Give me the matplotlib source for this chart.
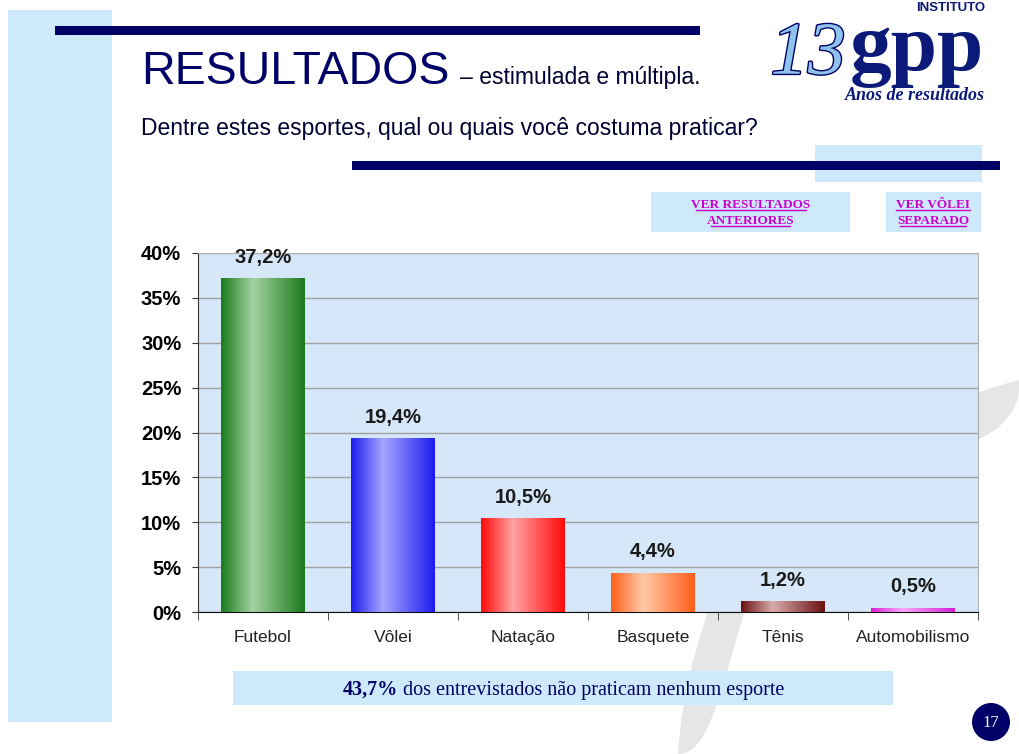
import numpy as np
import matplotlib
matplotlib.use('Agg')
import matplotlib.pyplot as plt
import matplotlib.patches as mpatches
from matplotlib.path import Path
from matplotlib.colors import LinearSegmentedColormap
import matplotlib.patheffects as pe

# data
sports = ['Futebol', 'Vôlei', 'Natação', 'Basquete', 'Tênis', 'Automobilismo']
pct = [37.2, 19.4, 10.5, 4.4, 1.2, 0.5]
yticks = [0, 5, 10, 15, 20, 25, 30, 35, 40]

# (edge colour, highlight colour) for the cylinder-like gradient
bar_cols = [('#1b7a1b', '#a3d3a3'),
            ('#1c1cf0', '#a6a6ff'),
            ('#ff0a0a', '#ffa3a3'),
            ('#ff5e1a', '#ffcaa8'),
            ('#6a1010', '#d9abab'),
            ('#d81ed8', '#f4a8f4')]

navy = '#000066'
pale = '#cde9fb'
sans = 'Liberation Sans'
serif = 'Liberation Serif'

fig = plt.figure(figsize=(10.2, 7.54), dpi=100)
fig.patch.set_facecolor('white')

# background layer in pixel coords (y down)
bg = fig.add_axes([0, 0, 1, 1], zorder=0)
bg.set_xlim(0, 1020)
bg.set_ylim(754, 0)
bg.axis('off')

# gray swoosh behind everything
verts = [(1020, 380), (930, 400), (800, 480), (745, 610), (718, 700), (708, 754),
         (678, 754), (682, 690), (702, 600), (760, 500), (880, 450), (1020, 468), (1020, 380)]
codes = [Path.MOVETO, Path.CURVE4, Path.CURVE4, Path.CURVE4, Path.CURVE4, Path.CURVE4,
         Path.LINETO, Path.CURVE4, Path.CURVE4, Path.CURVE4, Path.CURVE4, Path.CURVE4, Path.CLOSEPOLY]
bg.add_patch(mpatches.PathPatch(Path(verts, codes), facecolor='#e6e6e6', edgecolor='none'))

bg.add_patch(mpatches.Rectangle((8, 10), 104, 712, color=pale, lw=0))
bg.add_patch(mpatches.Rectangle((55, 26), 645, 9, color=navy, lw=0))
bg.add_patch(mpatches.Rectangle((815, 145), 167, 37, color=pale, lw=0))
bg.add_patch(mpatches.Rectangle((352, 161), 648, 9, color=navy, lw=0))

bg.text(141, 84, 'RESULTADOS', fontsize=33.5, family=sans, color=navy, va='baseline')
bg.text(460, 84, '– estimulada e múltipla.', fontsize=16.5, family=sans, color='#000033', va='baseline')
bg.text(141, 135, 'Dentre estes esportes, qual ou quais você costuma praticar?',
        fontsize=16.5, family=sans, color='#000033', va='baseline')

# logo
bg.text(808, 56, '13', fontsize=54, family=serif, style='italic', color='#8fc3ec',
        ha='center', va='center',
        path_effects=[pe.withStroke(linewidth=2, foreground=navy)])
bg.text(850, 70, 'gpp', fontsize=60, family=serif, weight='bold', color='#0b1a78', va='baseline')
bg.text(985, 11, 'INSTITUTO', fontsize=9.5, family=sans, weight='bold', color='#0b1a78',
        ha='right', va='baseline')
bg.text(985, 100, 'Anos de resultados', fontsize=13, family=serif, weight='bold', style='italic',
        color='#0b1a78', ha='right', va='baseline')

# link boxes
bg.add_patch(mpatches.Rectangle((651, 192), 199, 40, color=pale, lw=0))
bg.add_patch(mpatches.Rectangle((886, 192), 95, 40, color=pale, lw=0))
link_c = '#cc00cc'
for cx, lines in [(751, ['VER RESULTADOS', 'ANTERIORES']), (933, ['VER VÔLEI', 'SEPARADO'])]:
    for k, s in enumerate(lines):
        y = 208 + k * 16
        bg.text(cx, y, s, fontsize=9.5, family=serif, weight='bold', color=link_c,
                ha='center', va='baseline')
        w = len(s) * 7.9 if cx < 900 else len(s) * 8.2
        bg.plot([cx - w / 2, cx + w / 2], [y + 2, y + 2], color=link_c, lw=1)

# bottom note
bg.add_patch(mpatches.Rectangle((233, 671), 660, 34, color=pale, lw=0))
t1 = bg.text(343, 695, '43,7%', fontsize=14.5, family=serif, weight='bold', color=navy, va='baseline')
bg.annotate(' dos entrevistados não praticam nenhum esporte', xy=(1, 0), xycoords=t1,
            fontsize=14.5, family=serif, color=navy, va='bottom', ha='left')

# page number
bg.add_patch(mpatches.Circle((991, 722), 19, color=navy, lw=0))
bg.text(991, 723, '17', fontsize=12, family=serif, color='white', ha='center', va='center')

# chart
ax = fig.add_axes([198 / 1020, 1 - 612 / 754, 780 / 1020, 359 / 754], zorder=2)
ax.set_facecolor('#d5e7f8')
x = np.arange(len(sports))
bars = ax.bar(x, pct, width=0.64, color=[c[0] for c in bar_cols], lw=0, zorder=3)

grad = np.linspace(0, 1, 256).reshape(1, -1)
for b, (dark, light) in zip(bars, bar_cols):
    cm = LinearSegmentedColormap.from_list('g', [(0, dark), (0.38, light), (1, dark)])
    x0, y0 = b.get_x(), b.get_y()
    im = ax.imshow(grad, cmap=cm, aspect='auto', zorder=4,
                   extent=(x0, x0 + b.get_width(), y0, y0 + b.get_height()))
    im.set_clip_path(b)

for xi, v in zip(x, pct):
    ax.annotate(f'{v:.1f}%'.replace('.', ','), (xi, v), xytext=(0, 8), textcoords='offset points',
                ha='center', va='bottom', fontsize=14.5, weight='bold', family=sans, color='#1a1a1a')

ax.set_xlim(-0.5, len(sports) - 0.5)
ax.set_ylim(0, 40)
ax.set_yticks(yticks)
ax.set_yticklabels([f'{t}%' for t in yticks], fontsize=14.5, weight='bold', family=sans)
ax.set_xticks(x)
ax.set_xticklabels(sports, fontsize=12.5, family=sans, color='#222222')
ax.set_xticks(np.arange(-0.5, len(sports), 1), minor=True)
ax.tick_params(axis='x', which='major', length=0, pad=13)
ax.tick_params(axis='x', which='minor', length=6, direction='out', color='#333333')
ax.tick_params(axis='y', length=4, direction='out', pad=8, color='#333333')
ax.yaxis.grid(True, color='#a0a0a0', lw=1)
ax.set_axisbelow(True)
ax.spines['left'].set_color('#333333')
ax.spines['bottom'].set_color('#111111')
ax.spines['top'].set_color('#b0b0b0')
ax.spines['right'].set_color('#b0b0b0')

fig.savefig('out.png', dpi=100, facecolor='white')
